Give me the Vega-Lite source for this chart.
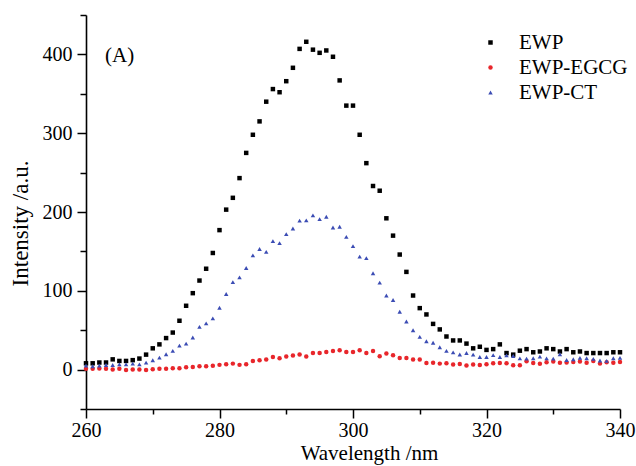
{
  "$schema": "https://vega.github.io/schema/vega-lite/v6.json",
  "width": 534,
  "height": 394,
  "autosize": {"type": "none"},
  "padding": {"left": 86, "top": 15, "right": 16, "bottom": 57},
  "background": "white",
  "config": {
    "view": {"stroke": null},
    "axis": {
      "grid": false,
      "domainColor": "black",
      "domainWidth": 1.6,
      "tickColor": "black",
      "tickWidth": 1.5,
      "labelColor": "black",
      "labelFont": "Times New Roman, Liberation Serif, serif",
      "labelFontSize": 20,
      "labelFlush": false,
      "labelOverlap": false,
      "titleColor": "black",
      "titleFont": "Times New Roman, Liberation Serif, serif",
      "titleFontWeight": "normal"
    },
    "legend": {
      "labelFont": "Liberation Serif",
      "labelFontSize": 21,
      "labelColor": "black"
    }
  },
  "datasets": {
    "spectra": [
      {"w":260,"EWP":8,"EWP-EGCG":1,"EWP-CT":5},
      {"w":261,"EWP":8,"EWP-EGCG":1,"EWP-CT":4.2},
      {"w":262,"EWP":9,"EWP-EGCG":1.5,"EWP-CT":5},
      {"w":263,"EWP":9,"EWP-EGCG":1,"EWP-CT":5.9},
      {"w":264,"EWP":13,"EWP-EGCG":0,"EWP-CT":5.9},
      {"w":265,"EWP":11,"EWP-EGCG":1,"EWP-CT":6.7},
      {"w":266,"EWP":11,"EWP-EGCG":-0.5,"EWP-CT":6.7},
      {"w":267,"EWP":12,"EWP-EGCG":0,"EWP-CT":7.6},
      {"w":268,"EWP":14,"EWP-EGCG":0,"EWP-CT":6.7},
      {"w":269,"EWP":19,"EWP-EGCG":-0.5,"EWP-CT":8.9},
      {"w":270,"EWP":27,"EWP-EGCG":0.5,"EWP-CT":11.8},
      {"w":271,"EWP":32,"EWP-EGCG":1,"EWP-CT":15.2},
      {"w":272,"EWP":40,"EWP-EGCG":1,"EWP-CT":19.5},
      {"w":273,"EWP":47,"EWP-EGCG":1.6,"EWP-CT":23.7},
      {"w":274,"EWP":62,"EWP-EGCG":1.6,"EWP-CT":30.5},
      {"w":275,"EWP":81,"EWP-EGCG":3,"EWP-CT":33},
      {"w":276,"EWP":97,"EWP-EGCG":3.4,"EWP-CT":40.7},
      {"w":277,"EWP":113,"EWP-EGCG":4.2,"EWP-CT":54.3},
      {"w":278,"EWP":128,"EWP-EGCG":4.2,"EWP-CT":58.6},
      {"w":279,"EWP":148,"EWP-EGCG":5,"EWP-CT":65},
      {"w":280,"EWP":177,"EWP-EGCG":6,"EWP-CT":78.5},
      {"w":281,"EWP":203,"EWP-EGCG":6.7,"EWP-CT":96},
      {"w":282,"EWP":218,"EWP-EGCG":7.6,"EWP-CT":111},
      {"w":283,"EWP":243,"EWP-EGCG":6,"EWP-CT":117},
      {"w":284,"EWP":275,"EWP-EGCG":6.7,"EWP-CT":129},
      {"w":285,"EWP":298,"EWP-EGCG":11,"EWP-CT":145},
      {"w":286,"EWP":315,"EWP-EGCG":11.8,"EWP-CT":153},
      {"w":287,"EWP":340,"EWP-EGCG":12.7,"EWP-CT":149.4},
      {"w":288,"EWP":356,"EWP-EGCG":16,"EWP-CT":163},
      {"w":289,"EWP":352,"EWP-EGCG":14.4,"EWP-CT":160.5},
      {"w":290,"EWP":366,"EWP-EGCG":16.5,"EWP-CT":172},
      {"w":291,"EWP":383,"EWP-EGCG":18,"EWP-CT":179},
      {"w":292,"EWP":407,"EWP-EGCG":19.3,"EWP-CT":189},
      {"w":293,"EWP":416,"EWP-EGCG":16.5,"EWP-CT":189.3},
      {"w":294,"EWP":406,"EWP-EGCG":21.2,"EWP-CT":195.7},
      {"w":295,"EWP":402,"EWP-EGCG":21.2,"EWP-CT":191},
      {"w":296,"EWP":405,"EWP-EGCG":22.4,"EWP-CT":194},
      {"w":297,"EWP":397,"EWP-EGCG":23.7,"EWP-CT":180.4},
      {"w":298,"EWP":367,"EWP-EGCG":24.6,"EWP-CT":181.3},
      {"w":299,"EWP":335,"EWP-EGCG":22.4,"EWP-CT":168.5},
      {"w":300,"EWP":335,"EWP-EGCG":22.4,"EWP-CT":156.7},
      {"w":301,"EWP":298,"EWP-EGCG":24.6,"EWP-CT":143.4},
      {"w":302,"EWP":262,"EWP-EGCG":21.2,"EWP-CT":141.4},
      {"w":303,"EWP":233,"EWP-EGCG":23.7,"EWP-CT":122.3},
      {"w":304,"EWP":227,"EWP-EGCG":17,"EWP-CT":110.3},
      {"w":305,"EWP":192,"EWP-EGCG":20.4,"EWP-CT":94},
      {"w":306,"EWP":170,"EWP-EGCG":18.2,"EWP-CT":88.3},
      {"w":307,"EWP":146,"EWP-EGCG":14.8,"EWP-CT":73.4},
      {"w":308,"EWP":124,"EWP-EGCG":14.8,"EWP-CT":61},
      {"w":309,"EWP":94,"EWP-EGCG":12.7,"EWP-CT":50},
      {"w":310,"EWP":78,"EWP-EGCG":12.7,"EWP-CT":41.5},
      {"w":311,"EWP":70,"EWP-EGCG":8.4,"EWP-CT":36},
      {"w":312,"EWP":58,"EWP-EGCG":8.7,"EWP-CT":34},
      {"w":313,"EWP":51,"EWP-EGCG":7.6,"EWP-CT":28.4},
      {"w":314,"EWP":42,"EWP-EGCG":8,"EWP-CT":23.7},
      {"w":315,"EWP":37,"EWP-EGCG":6.5,"EWP-CT":21.8},
      {"w":316,"EWP":37,"EWP-EGCG":7,"EWP-CT":19.2},
      {"w":317,"EWP":33,"EWP-EGCG":5.3,"EWP-CT":21},
      {"w":318,"EWP":27,"EWP-EGCG":6.5,"EWP-CT":19},
      {"w":319,"EWP":29,"EWP-EGCG":5.7,"EWP-CT":16},
      {"w":320,"EWP":25,"EWP-EGCG":6.7,"EWP-CT":16},
      {"w":321,"EWP":26,"EWP-EGCG":8,"EWP-CT":18.4},
      {"w":322,"EWP":32,"EWP-EGCG":8.4,"EWP-CT":16},
      {"w":323,"EWP":21,"EWP-EGCG":8,"EWP-CT":18},
      {"w":324,"EWP":19,"EWP-EGCG":5.5,"EWP-CT":17.2},
      {"w":325,"EWP":24,"EWP-EGCG":5.5,"EWP-CT":14.2},
      {"w":326,"EWP":26,"EWP-EGCG":10.6,"EWP-CT":14},
      {"w":327,"EWP":22,"EWP-EGCG":8.4,"EWP-CT":14.4},
      {"w":328,"EWP":23,"EWP-EGCG":7.3,"EWP-CT":16.5},
      {"w":329,"EWP":27,"EWP-EGCG":9.3,"EWP-CT":14.2},
      {"w":330,"EWP":26,"EWP-EGCG":10.3,"EWP-CT":14},
      {"w":331,"EWP":23,"EWP-EGCG":8.8,"EWP-CT":19.5},
      {"w":332,"EWP":26,"EWP-EGCG":9,"EWP-CT":12.2},
      {"w":333,"EWP":22,"EWP-EGCG":9.5,"EWP-CT":13.2},
      {"w":334,"EWP":23,"EWP-EGCG":10.3,"EWP-CT":14.8},
      {"w":335,"EWP":21,"EWP-EGCG":8.6,"EWP-CT":14.4},
      {"w":336,"EWP":21,"EWP-EGCG":10.8,"EWP-CT":13.6},
      {"w":337,"EWP":21,"EWP-EGCG":7.6,"EWP-CT":11.5},
      {"w":338,"EWP":21,"EWP-EGCG":9.3,"EWP-CT":11},
      {"w":339,"EWP":22,"EWP-EGCG":8.8,"EWP-CT":14.4},
      {"w":340,"EWP":22,"EWP-EGCG":9.7,"EWP-CT":14.8}
    ],
    "panel": [{"w": 262.85, "v": 398, "t": "(A)"}]
  },
  "layer": [
    {
      "data": {"name": "spectra"},
      "transform": [{"fold": ["EWP", "EWP-EGCG", "EWP-CT"], "as": ["series", "v"]}],
      "mark": {"type": "point", "filled": true, "opacity": 1},
      "encoding": {
        "x": {
          "field": "w", "type": "quantitative",
          "scale": {"domain": [260, 340], "nice": false, "zero": false},
          "axis": {
            "orient": "bottom",
            "values": [260, 280, 300, 320, 340],
            "tickSize": 9,
            "labelPadding": 2,
            "title": "Wavelength /nm",
            "titleFontSize": 21,
            "titleX": 283,
            "titleY": 50,
            "titleAlign": "center",
            "titleBaseline": "alphabetic"
          }
        },
        "y": {
          "field": "v", "type": "quantitative",
          "scale": {"domain": [-50, 450], "nice": false, "zero": false},
          "axis": {
            "orient": "left",
            "values": [0, 100, 200, 300, 400],
            "tickSize": 9,
            "labelPadding": 5,
            "title": "Intensity /a.u.",
            "titleFontSize": 23,
            "titleAngle": -90,
            "titleX": -66,
            "titleY": 208,
            "titleAlign": "center",
            "titleBaseline": "middle"
          }
        },
        "color": {
          "field": "series", "type": "nominal",
          "scale": {"domain": ["EWP", "EWP-EGCG", "EWP-CT"], "range": ["#000000", "#e8262b", "#3b4cb4"]},
          "legend": {
            "title": null,
            "orient": "none",
            "legendX": 394,
            "legendY": 17,
            "symbolSize": 20,
            "labelOffset": 18,
            "rowPadding": 3,
            "padding": 0,
            "labelFont": "Liberation Serif",
            "labelFontSize": 21,
            "labelLimit": 300
          }
        },
        "shape": {
          "field": "series", "type": "nominal",
          "scale": {"domain": ["EWP", "EWP-EGCG", "EWP-CT"], "range": ["square", "circle", "triangle-up"]},
          "legend": {
            "title": null,
            "orient": "none",
            "legendX": 394,
            "legendY": 17,
            "symbolSize": 20,
            "labelOffset": 18,
            "rowPadding": 3,
            "padding": 0,
            "labelFont": "Liberation Serif",
            "labelFontSize": 21,
            "labelLimit": 300
          }
        },
        "size": {"value": 20}
      }
    },
    {
      "data": {"name": "spectra"},
      "mark": {"type": "point", "opacity": 0},
      "encoding": {
        "x": {
          "field": "w", "type": "quantitative",
          "axis": {"orient": "bottom", "values": [270, 290, 310, 330], "tickSize": 5, "labels": false, "domain": false, "title": null}
        },
        "y": {
          "field": "EWP", "type": "quantitative",
          "axis": {"orient": "left", "values": [-50, 50, 150, 250, 350, 450], "tickSize": 6, "labels": false, "domain": false, "title": null}
        }
      }
    },
    {
      "data": {"name": "panel"},
      "mark": {"type": "text", "align": "left", "baseline": "middle", "fontSize": 21, "font": "Liberation Serif", "color": "black"},
      "encoding": {
        "x": {"field": "w", "type": "quantitative", "axis": null},
        "y": {"field": "v", "type": "quantitative", "axis": null},
        "text": {"field": "t"}
      }
    }
  ],
  "resolve": {"axis": {"x": "independent", "y": "independent"}}
}
